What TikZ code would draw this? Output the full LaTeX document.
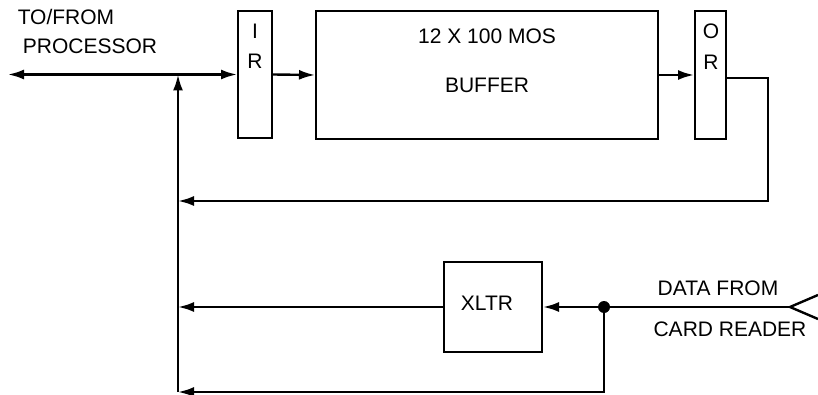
\documentclass[tikz,border=0pt]{standalone}
\usepackage{fontspec}
\setmainfont{Liberation Sans}
\usetikzlibrary{arrows.meta, calc}

\begin{document}
\begin{tikzpicture}[
    x=0.5pt, y=-0.5pt, font=\fontsize{10.5}{12}\selectfont,
    reg/.style={draw, line width=1pt, inner sep=0pt},
    sig/.style={-{Latex[length=8pt, width=5pt]}, line width=1.2pt},
    wire/.style={line width=1.2pt},
    lbl/.style={inner sep=1pt},
]
\useasboundingbox (0,0) rectangle (818,395);

% ===========================================================================
% Registros y buffer
% ===========================================================================
\node[reg, minimum width=17pt, minimum height=63.5pt] (ir) at (255,74.5) {};
\node[lbl] (irI) at (255,31) {I};
\node[lbl] (irR) at (255,61) {R};

\node[reg, minimum width=171pt, minimum height=64pt] (buf) at (487,75) {};
\node[lbl] (bufA) at (487,36) {12 X 100 MOS};
\node[lbl] (bufB) at (487,85) {BUFFER};

\node[reg, minimum width=15.5pt, minimum height=64pt] (or) at (710.5,75) {};
\node[lbl] (orO) at (711,31) {O};
\node[lbl] (orR) at (711,62) {R};

\node[reg, minimum width=49pt, minimum height=45pt] (xltr) at (493,307) {};
\node[lbl] (xltrT) at (487,303) {XLTR};

% ----- textos -----
\node[lbl] (toFrom) at (66,17) {TO/FROM};
\node[lbl] (proc) at (90,46) {PROCESSOR};
\node[lbl] (dataFrom) at (718,288) {DATA FROM};
\node[lbl] (cardRd) at (730,329) {CARD READER};

% ===========================================================================
% Puntos de paso
% ===========================================================================
\coordinate (procL) at (8,74.5);
\coordinate (busJ) at (178,74.5);
\coordinate (vBot) at (178,392);
\coordinate (orTurn) at (768,201);
\coordinate (fb1) at (178,201);
\coordinate (fb2) at (178,307);
\coordinate (fb3) at (178,392);
\coordinate (tap) at (604,307);
\coordinate (cardIn) at (790,307);
\coordinate (tailA) at (818,295);
\coordinate (tailB) at (818,319);

% ----- bus al procesador -----
\draw[sig, {Latex[length=8pt, width=5pt]}-{Latex[length=8pt, width=5pt]}]
      (procL) -- (ir.west);
\draw[sig] (ir.east) -- (buf.west);
\draw[sig] (buf.east) -- (or.west);

% ----- retornos -----
\draw[sig] (vBot) -- (busJ);
\draw[sig] ($(or.east)+(0,3)$) -| (orTurn) -- (fb1);
\draw[sig] (xltr.west) -- (fb2);

% ----- entrada del lector de tarjetas -----
\draw[sig] (cardIn) -- (xltr.east);
\draw[wire] (tailA) -- (cardIn) -- (tailB);
\fill (tap) circle (3pt);
\draw[sig] (tap) |- (fb3);

\end{tikzpicture}
\end{document}
